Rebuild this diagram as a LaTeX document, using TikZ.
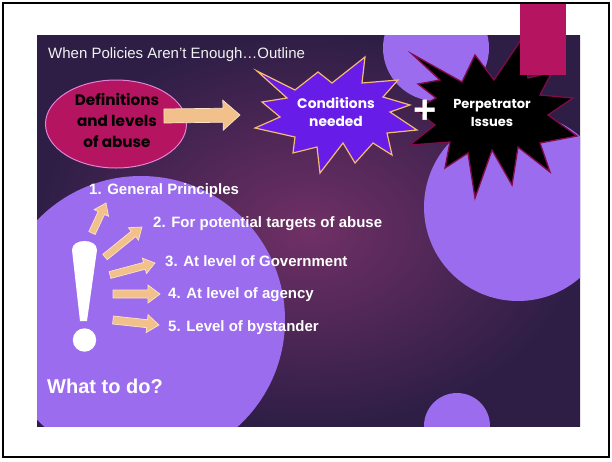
\documentclass[tikz,border=0pt]{standalone}
\usepackage{fontspec}
\setmainfont{Liberation Sans}
\newfontfamily\gothic{Poppins}
\usetikzlibrary{calc,shapes.geometric}
\definecolor{slideedge}{RGB}{46,30,70}
\definecolor{slidemid}{RGB}{112,48,102}
\definecolor{blob}{RGB}{155,108,238}
\definecolor{berry}{RGB}{180,20,96}
\definecolor{berryline}{RGB}{226,130,214}
\definecolor{violet}{RGB}{104,28,232}
\definecolor{starline}{RGB}{244,186,112}
\definecolor{wine}{RGB}{130,10,72}
\definecolor{apricot}{RGB}{242,192,138}
\definecolor{apricotline}{RGB}{250,228,200}
\tikzset{
  item/.style={anchor=base west, inner sep=0pt, text=white,
    font=\bfseries\fontsize{15}{18}\selectfont},
  burst/.style={align=center, inner sep=0pt, text=white,
    font=\gothic\bfseries\fontsize{13.8}{17.5}\selectfont},
  peach/.style={fill=apricot, draw=apricotline, line width=0.7pt, line join=miter},
}
% block arrow: from, to, half body, half head, head length
\newcommand{\blockarrow}[5]{%
  \coordinate (ahead) at ($(#2)!#5!(#1)$);
  \filldraw[peach] ($(#1)!#3!90:(#2)$) -- ($(ahead)!#3!90:(#2)$) -- ($(ahead)!#4!90:(#2)$)
    -- (#2) -- ($(ahead)!#4!-90:(#2)$) -- ($(ahead)!#3!-90:(#2)$) -- ($(#1)!#3!-90:(#2)$) -- cycle;}

\begin{document}
\begin{tikzpicture}[x=1pt,y=-1pt]
     \useasboundingbox (0,0) rectangle (612,461);
     \shade[inner color=slidemid, outer color=slideedge] (37,35) rectangle (580,426);
     \begin{scope}
       \clip (37,35) rectangle (580,426);
       \fill[blob] (436,48) circle (53);
       \fill[blob] (518,207) circle (94);
       \fill[blob] (457,426) circle (33);
       \fill[blob] (141,320) circle (144);
     \end{scope}

     \node at (48,58) [anchor=base west, inner sep=0pt, text=white!95!black,
       font=\fontsize{15}{18}\selectfont] (title) {When Policies Aren’t Enough…Outline};

     % top row
     \node[ellipse, minimum width=141, minimum height=88, inner sep=0pt, fill=berry,
       draw=berryline, line width=1pt] (defs) at (116,124) {};
     \node[align=center, inner sep=0pt, text=black,
       font=\gothic\bfseries\fontsize{15.2}{21}\selectfont] (defstext) at (117,120)
       {Definitions\\and levels\\of abuse};
     \coordinate (d1) at (164,116);
     \coordinate (d2) at (240,115);
     \blockarrow{d1}{d2}{7pt}{15pt}{17pt}

     \filldraw[fill=violet, draw=starline, line width=1.2pt, line join=miter]
       (257,71) -- (295,90) -- (318,72) -- (332,83) -- (365,57) -- (362,83) -- (398,80)
       -- (383,97) -- (410,105) -- (390,112) -- (417,130) -- (387,133) -- (392,155)
       -- (373,143) -- (355,163) -- (343,143) -- (320,173) -- (317,147) -- (293,153)
       -- (295,137) -- (255,128) -- (280,117) -- (262,102) -- (287,98) -- cycle;
     \node[burst] (cond) at (336,112) {Conditions\\needed};

     \filldraw[fill=black, draw=wine, line width=1.3pt, line join=miter]
       (412,54) -- (462,82) -- (475,55) -- (494,80) -- (523,37) -- (528,78) -- (552,72)
       -- (540,95) -- (573,98) -- (548,115) -- (577,136) -- (540,143) -- (550,172)
       -- (518,147) -- (512,185) -- (492,150) -- (475,198) -- (468,153) -- (445,168)
       -- (450,142) -- (410,145) -- (435,125) -- (415,110) -- (436,98) -- (418,84)
       -- (440,80) -- cycle;
     \node[burst, font=\gothic\bfseries\fontsize{13}{17.5}\selectfont] (perp) at (492,113)
       {Perpetrator\\Issues};
     \node[inner sep=0pt, text=white, font=\bfseries\fontsize{40}{40}\selectfont]
       (plus) at (425,112) {+};

     \fill[berry] (520,3) rectangle (566,75);

     % what to do
     \fill[white] (72,250) .. controls (72,238) and (97,238) .. (97,250) -- (87,321)
       -- (80,321) -- cycle;
     \fill[white] (84.5,340) circle (11.7);
     \coordinate (s1) at (92,233);  \coordinate (t1) at (106,203);
     \coordinate (s2) at (105,257); \coordinate (t2) at (142,227);
     \coordinate (s3) at (110,275); \coordinate (t3) at (155,263);
     \coordinate (s4) at (113,294); \coordinate (t4) at (160,294);
     \coordinate (s5) at (113,320); \coordinate (t5) at (159,325);
     \blockarrow{s1}{t1}{3.5pt}{8pt}{11pt}
     \blockarrow{s2}{t2}{3.5pt}{8pt}{11pt}
     \blockarrow{s3}{t3}{3.5pt}{8pt}{11pt}
     \blockarrow{s4}{t4}{4pt}{9pt}{12pt}
     \blockarrow{s5}{t5}{4pt}{9pt}{12pt}

     \node[item] (i1) at (89,194) {1. General Principles};
     \node[item] (i2) at (153,227) {2. For potential targets of abuse};
     \node[item] (i3) at (165,266) {3. At level of Government};
     \node[item] (i4) at (168,298) {4. At level of agency};
     \node[item] (i5) at (168,331) {5. Level of bystander};
     \node[anchor=base west, inner sep=0pt, text=white,
       font=\bfseries\fontsize{20}{24}\selectfont] (todo) at (47,393) {What to do?};

     \draw[line width=2pt] (3,3) rectangle (609,456.5);
\end{tikzpicture}
\end{document}
